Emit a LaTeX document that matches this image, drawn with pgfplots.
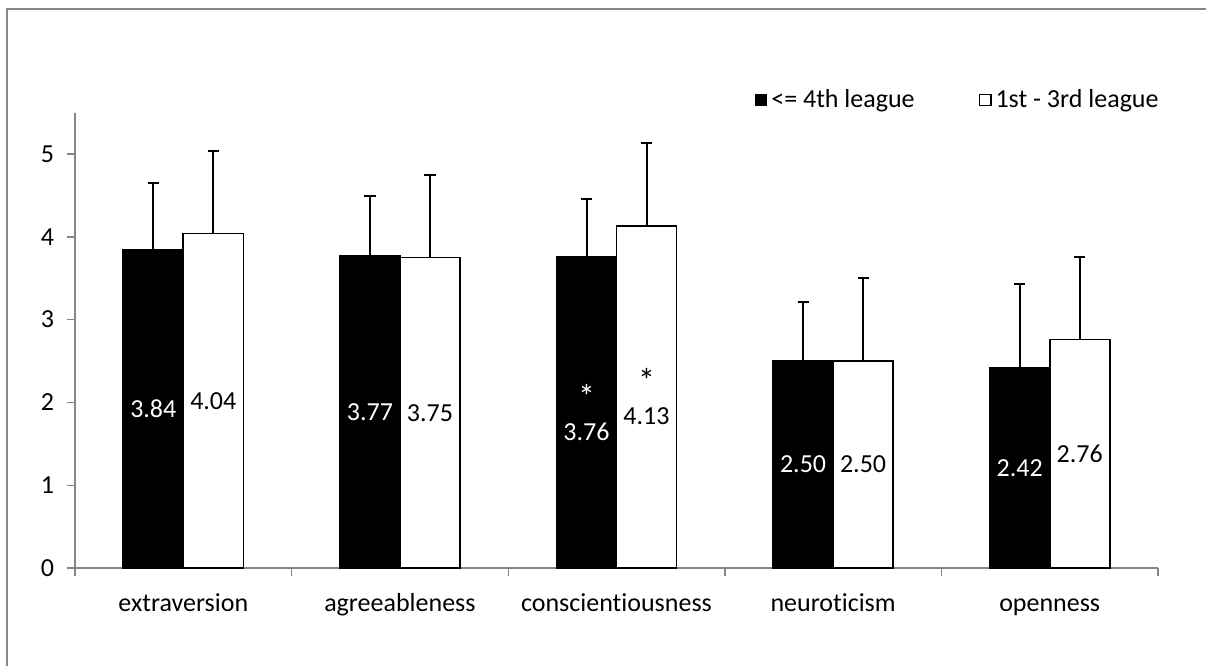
\documentclass[border=0pt]{standalone}
\usepackage{fontspec}
\setmainfont{Carlito}[Ligatures=NoCommon]
\usepackage{pgfplots}
\usepackage{pgfplotstable}
\pgfplotsset{compat=1.18}
\definecolor{axisgray}{RGB}{134,134,134}

% mean, SD (upper error bar), data label
\pgfplotstableread[col sep=comma]{
x,y,e,lab
0.5,3.84,0.81,3.84
1.5,3.77,0.72,3.77
2.5,3.76,0.70,{{\fontsize{17}{15}\selectfont*}\\3.76}
3.5,2.50,0.71,2.50
4.5,2.42,1.01,2.42
}\lowleague

\pgfplotstableread[col sep=comma]{
x,y,e,lab
0.5,4.04,1.00,4.04
1.5,3.75,1.00,3.75
2.5,4.13,1.00,{{\fontsize{17}{15}\selectfont*}\\4.13}
3.5,2.50,1.00,2.50
4.5,2.76,1.00,2.76
}\topleague

\begin{document}
\begin{tikzpicture}[font=\fontsize{13}{16}\selectfont]
\useasboundingbox (0,0) rectangle (603pt,333pt);
\draw[axisgray, line width=1pt] (3.3pt,0) -- (3.3pt,328.5pt) -- (603pt,328.5pt);
\begin{axis}[
    at={(37.5pt,49pt)}, anchor=south west,
    x=108.3pt, y=41.4pt,
    xmin=0, xmax=5, ymin=0, ymax=5.5,
    clip=false,
    axis lines*=left,
    axis line style={axisgray, line width=0.7pt},
    tick align=outside,
    major tick length=4pt,
    tick style={axisgray, line width=0.7pt},
    ytick={0,1,2,3,4,5},
    xtick={0,1,2,3,4,5},
    xticklabels={},
    extra x ticks={0.5,1.5,2.5,3.5,4.5},
    extra x tick labels={extraversion,agreeableness,conscientiousness,neuroticism,openness},
    extra x tick style={major tick length=0pt, xticklabel style={anchor=base, yshift=-21.5pt}},
    yticklabel style={xshift=-3pt},
    /pgf/number format/assume math mode=true,
    ticklabel style={font=\fontsize{13}{16}\selectfont},
    ybar, bar width=30pt,
    error bars/y dir=plus,
    error bars/y explicit,
    error bars/error bar style={black, line width=1pt},
    error bars/error mark options={black, rotate=90, mark size=2.8pt, line width=1pt},
    point meta=explicit symbolic,
    nodes near coords,
    visualization depends on={\thisrow{y} \as \rawy},
    every node near coord/.append style={anchor=center, yshift=-\rawy*20.7pt,
        align=center, font=\fontsize{13}{16}\selectfont},
    legend style={at={(1,1)}, anchor=east, xshift=5.5pt, yshift=6.3pt,
        draw=none, fill=none, legend columns=2,
        font=\fontsize{13}{16}\selectfont,
        /tikz/every even column/.append style={column sep=30pt}},
    legend image code/.code={\draw[#1, line width=0.6pt] (0pt,-2.9pt) rectangle (5.8pt,2.9pt);},
]
\addplot[fill=black, draw=black, line width=0.8pt, bar shift=-15pt,
    every node near coord/.append style={text=white}]
    table[x=x, y=y, y error=e, meta=lab] {\lowleague};
\addplot[fill=white, draw=black, line width=0.8pt, bar shift=15pt,
    every node near coord/.append style={text=black}]
    table[x=x, y=y, y error=e, meta=lab] {\topleague};
\legend{<= 4th league, 1st - 3rd league}
\end{axis}
\end{tikzpicture}
\end{document}
